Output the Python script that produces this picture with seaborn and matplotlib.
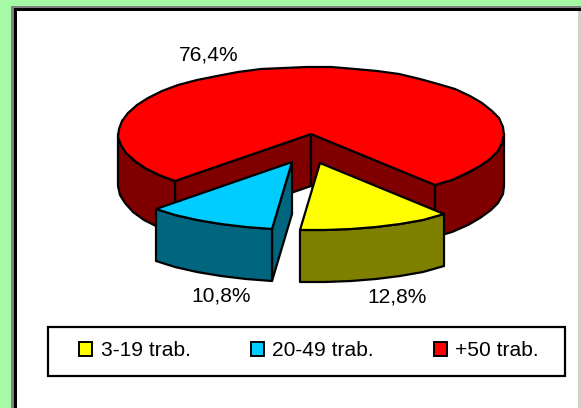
import numpy as np
import matplotlib.pyplot as plt
from matplotlib.patches import Patch, Rectangle
import seaborn as sns

categories = ['3-19 trab.', '20-49 trab.', '+50 trab.']
values = [12.8, 10.8, 76.4]
labels = ['12,8%', '10,8%', '76,4%']

top_colors = ['#FFFF00', '#00CCFF', '#FF0000']
wall_colors = ['#808000', '#006680', '#800000']

# pie geometry, in pixels of the picture
CX, CY = 311, 134
RX, RY = 193, 67
DEPTH = 52
FIRST_ANGLE = -50
OFFSETS = [(9, 29), (-19, 28), (0, 0)]
LABEL_POS = [(397, 297), (221, 296), (209, 55)]
LINE = 1.6


def rim(a0, a1, dx, dy, step=7):
    n = max(int(abs(a1 - a0) / step), 2)
    t = np.radians(np.linspace(a0, a1, n + 1))
    # y axis points down here, so negative angles sit at the front
    # whole pixels give the slightly uneven edge of the original
    return np.round(CX + dx + RX * np.cos(t)), np.round(CY + dy - RY * np.sin(t))


def poly(ax, x, y, color):
    ax.fill(x, y, facecolor=color, edgecolor='black', linewidth=LINE, joinstyle='round')


sns.set_theme(style='white')
plt.rcParams['font.family'] = ['Liberation Sans', 'DejaVu Sans']

fig, ax = plt.subplots(figsize=(5.81, 4.08), dpi=100)
fig.subplots_adjust(0, 0, 1, 1)
fig.patch.set_facecolor('#A6FAA6')
ax.set_xlim(0, 581)
ax.set_ylim(408, 0)
ax.axis('off')

# page frame
ax.add_patch(Rectangle((11, 6), 570, 402, facecolor='#808080', edgecolor='none', zorder=0))
ax.add_patch(Rectangle((14, 8), 567, 400, facecolor='black', edgecolor='none', zorder=0))
ax.add_patch(Rectangle((17, 11), 561, 397, facecolor='white', edgecolor='none', zorder=0))
ax.add_patch(Rectangle((578, 11), 3, 397, facecolor='#D4D0C8', edgecolor='none', zorder=0))

# slice angles come from the values, clockwise from the first angle
ends = FIRST_ANGLE - np.cumsum(values) * 3.6
starts = np.r_[FIRST_ANGLE, ends[:-1]]

# back to front: red, blue, yellow
for i in [2, 1, 0]:
    dx, dy = OFFSETS[i]
    a0, a1 = starts[i], ends[i]
    ax_, ay_ = CX + dx, CY + dy
    x, y = rim(a0, a1, dx, dy)

    # walls along the cuts that face the viewer
    if i == 2:
        for xe, ye in [(x[0], y[0]), (x[-1], y[-1])]:
            poly(ax, [ax_, xe, xe, ax_], [ay_, ye, ye + DEPTH, ay_ + DEPTH], wall_colors[i])
    if i == 1:
        poly(ax, [ax_, x[0], x[0], ax_], [ay_, y[0], y[0] + DEPTH, ay_ + DEPTH], wall_colors[i])

    # outer wall, only the part turned to the front
    if i == 2:
        # the big slice wraps round the back, so it has two front pieces
        spans = [(a0, -180), (-360, a1)]
    else:
        spans = [(a0, a1)]
    for s0, s1 in spans:
        xw, yw = rim(s0, s1, dx, dy)
        poly(ax, np.r_[xw, xw[::-1]], np.r_[yw, yw[::-1] + DEPTH], wall_colors[i])

    # top face
    poly(ax, np.r_[ax_, x], np.r_[ay_, y], top_colors[i])

for (lx, ly), lab in zip(LABEL_POS, labels):
    ax.text(lx, ly, lab, ha='center', va='center', fontsize=15.1, color='black')

# legend
ax.add_patch(Rectangle((48, 327), 517, 48.5, facecolor='white', edgecolor='black', linewidth=1.6, zorder=2))
handles = [Patch(facecolor=c, edgecolor='black', linewidth=1.4) for c in top_colors]
ax.legend(handles, categories, ncols=3, frameon=False, fontsize=15.1, loc='center',
          bbox_to_anchor=(309, 351), bbox_transform=ax.transData,
          handlelength=0.62, handleheight=0.62, handletextpad=0.40, columnspacing=2.87,
          labelcolor='black')

fig.savefig('out.png', dpi=100, facecolor=fig.get_facecolor())
